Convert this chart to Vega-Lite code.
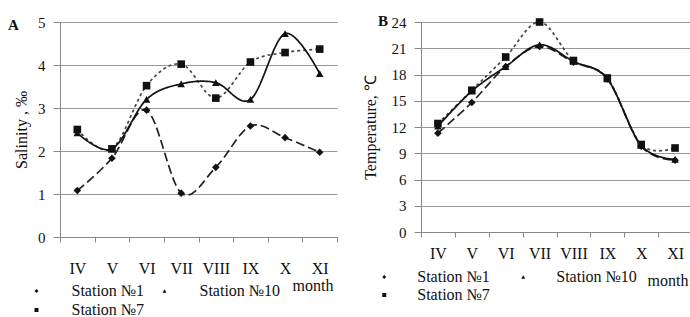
{
  "$schema": "https://vega.github.io/schema/vega-lite/v6.json",
  "background": "white",
  "padding": {"left": 8, "top": 13, "right": 0, "bottom": 0},
  "bounds": "flush",
  "spacing": 84,
  "config": {
    "font": "Liberation Serif",
    "view": {"stroke": null},
    "axis": {"labelFont": "Liberation Serif", "titleFont": "Liberation Serif", "labelColor": "#111", "titleColor": "#111", "domainColor": "#888", "tickColor": "#888", "titleFontWeight": "normal"},
    "legend": {"labelFont": "Liberation Serif", "labelFontSize": 16, "labelColor": "#111", "titleFont": "Liberation Serif", "titleColor": "#111", "symbolFillColor": "#111", "symbolStrokeColor": "#111"}
  },
  "datasets": {
    "sal": [
      {"month": "IV", "station": "Station №1", "value": 1.08},
      {"month": "V", "station": "Station №1", "value": 1.83},
      {"month": "VI", "station": "Station №1", "value": 2.95},
      {"month": "VII", "station": "Station №1", "value": 1.02},
      {"month": "VIII", "station": "Station №1", "value": 1.62},
      {"month": "IX", "station": "Station №1", "value": 2.58},
      {"month": "X", "station": "Station №1", "value": 2.31},
      {"month": "XI", "station": "Station №1", "value": 1.97},
      {"month": "IV", "station": "Station №7", "value": 2.5},
      {"month": "V", "station": "Station №7", "value": 2.05},
      {"month": "VI", "station": "Station №7", "value": 3.52},
      {"month": "VII", "station": "Station №7", "value": 4.02},
      {"month": "VIII", "station": "Station №7", "value": 3.23},
      {"month": "IX", "station": "Station №7", "value": 4.07},
      {"month": "X", "station": "Station №7", "value": 4.29},
      {"month": "XI", "station": "Station №7", "value": 4.37},
      {"month": "IV", "station": "Station №10", "value": 2.42},
      {"month": "V", "station": "Station №10", "value": 2.05},
      {"month": "VI", "station": "Station №10", "value": 3.2},
      {"month": "VII", "station": "Station №10", "value": 3.56},
      {"month": "VIII", "station": "Station №10", "value": 3.59},
      {"month": "IX", "station": "Station №10", "value": 3.2},
      {"month": "X", "station": "Station №10", "value": 4.73},
      {"month": "XI", "station": "Station №10", "value": 3.8}
    ],
    "temp": [
      {"month": "IV", "station": "Station №1", "value": 11.3},
      {"month": "V", "station": "Station №1", "value": 14.8},
      {"month": "VI", "station": "Station №1", "value": 18.9},
      {"month": "VII", "station": "Station №1", "value": 21.2},
      {"month": "VIII", "station": "Station №1", "value": 19.4},
      {"month": "IX", "station": "Station №1", "value": 17.5},
      {"month": "X", "station": "Station №1", "value": 9.8},
      {"month": "XI", "station": "Station №1", "value": 8.2},
      {"month": "IV", "station": "Station №7", "value": 12.4},
      {"month": "V", "station": "Station №7", "value": 16.2},
      {"month": "VI", "station": "Station №7", "value": 20.0},
      {"month": "VII", "station": "Station №7", "value": 24.0},
      {"month": "VIII", "station": "Station №7", "value": 19.6},
      {"month": "IX", "station": "Station №7", "value": 17.6},
      {"month": "X", "station": "Station №7", "value": 10.0},
      {"month": "XI", "station": "Station №7", "value": 9.6},
      {"month": "IV", "station": "Station №10", "value": 12.1},
      {"month": "V", "station": "Station №10", "value": 16.1},
      {"month": "VI", "station": "Station №10", "value": 18.9},
      {"month": "VII", "station": "Station №10", "value": 21.4},
      {"month": "VIII", "station": "Station №10", "value": 19.5},
      {"month": "IX", "station": "Station №10", "value": 17.5},
      {"month": "X", "station": "Station №10", "value": 9.9},
      {"month": "XI", "station": "Station №10", "value": 8.3}
    ]
  },
  "hconcat": [
    {
      "width": 277,
      "height": 215,
      "data": {"name": "sal"},
      "encoding": {
        "x": {"field": "month", "type": "ordinal", "sort": ["IV", "V", "VI", "VII", "VIII", "IX", "X", "XI"], "scale": {"type": "band", "paddingInner": 0, "paddingOuter": 0},
          "axis": {"title": "month", "titleX": 273, "titleY": 48, "titleAlign": "right", "titleBaseline": "middle", "titleFontSize": 16, "labelAngle": 0, "labelFontSize": 16, "labelPadding": 18, "tickBand": "extent", "tickSize": 5, "grid": false}},
        "y": {"field": "value", "type": "quantitative", "scale": {"domain": [0, 5], "nice": false},
          "axis": {"title": "Salinity , ‰", "values": [0, 1, 2, 3, 4, 5], "grid": true, "gridColor": "#999", "tickSize": 7, "labelPadding": 8, "labelFontSize": 15, "titleFontSize": 16, "titlePadding": 8}}
      },
      "layer": [
        {"mark": {"type": "line", "interpolate": "cardinal", "strokeWidth": 1.7},
          "encoding": {
            "strokeDash": {"field": "station", "type": "nominal", "sort": ["Station №1", "Station №7", "Station №10"], "scale": {"domain": ["Station №1", "Station №7", "Station №10"], "range": [[9, 4], [3, 3], [1, 0]]}, "legend": null},
            "color": {"field": "station", "type": "nominal", "sort": ["Station №1", "Station №7", "Station №10"], "scale": {"domain": ["Station №1", "Station №7", "Station №10"], "range": ["#222", "#444", "#111"]},
              "legend": {"orient": "none", "legendX": -52, "legendY": -5, "title": "A", "titleOrient": "bottom", "titleFontSize": 15, "titleFontWeight": "bold", "titlePadding": 0, "padding": 0, "direction": "horizontal", "columns": 3, "labelOpacity": 0, "symbolOpacity": 0, "labelFontSize": 1, "symbolSize": 0, "symbolStrokeWidth": 0, "labelLimit": 1, "labelOffset": 0, "columnPadding": 0}}}},
        {"mark": {"type": "point", "filled": true, "opacity": 1, "color": "#111", "size": 58},
          "encoding": {
            "shape": {"field": "station", "type": "nominal", "sort": ["Station №1", "Station №7", "Station №10"], "scale": {"domain": ["Station №1", "Station №7", "Station №10"], "range": ["diamond", "square", "triangle-up"]},
              "legend": {"orient": "none", "legendX": -31.5, "legendY": 261, "columns": 2, "title": null, "values": ["Station №1", "Station №7", "Station №10"], "labelFont": "Liberation Serif", "labelFontSize": 16, "symbolSize": 16, "labelOffset": 27, "columnPadding": 12, "rowPadding": 3, "padding": 0,
                "encode": {
                  "labels": {"update": {"font": {"value": "Liberation Serif"}, "fontSize": {"value": 16}}},
                  "symbols": {"update": {
                    "shape": {"signal": "datum.value === 'Station №1' ? 'M-10.75,0H10.75M0,-2.2L2,0L0,2.2L-2,0Z' : (datum.value === 'Station №7' ? 'M-11,0H-8.5M-6.5,0H-4M-2.5,0H2.5M4,0H6.5M8.5,0H11M-1.8,-1.8H1.8V1.8H-1.8Z' : 'M-12,0H12M0,-2.6L2.6,2L-2.6,2Z')"},
                    "size": {"value": 16}, "fill": {"value": "#111"}, "stroke": {"value": "#111"}, "strokeWidth": {"value": 1.5}, "opacity": {"value": 1}}}}}}}}
      ],
      "resolve": {"scale": {"shape": "independent", "color": "independent", "strokeDash": "independent"}, "legend": {"shape": "independent", "color": "independent", "strokeDash": "independent"}}
    },
    {
      "width": 271,
      "height": 210,
      "data": {"name": "temp"},
      "encoding": {
        "x": {"field": "month", "type": "ordinal", "sort": ["IV", "V", "VI", "VII", "VIII", "IX", "X", "XI"], "scale": {"type": "band", "paddingInner": 0, "paddingOuter": 0},
          "axis": {"title": "month", "titleX": 267, "titleY": 48, "titleAlign": "right", "titleBaseline": "middle", "titleFontSize": 16, "labelAngle": 0, "labelFontSize": 16, "labelPadding": 8, "tickBand": "extent", "tickSize": 5, "grid": false}},
        "y": {"field": "value", "type": "quantitative", "scale": {"domain": [0, 24], "nice": false},
          "axis": {"title": "Temperature, ℃", "values": [0, 3, 6, 9, 12, 15, 18, 21, 24], "grid": true, "gridColor": "#999", "tickSize": 7, "labelPadding": 8, "labelFontSize": 15, "titleFontSize": 16, "titlePadding": 13}}
      },
      "layer": [
        {"mark": {"type": "line", "interpolate": "cardinal", "strokeWidth": 1.7},
          "encoding": {
            "strokeDash": {"field": "station", "type": "nominal", "sort": ["Station №1", "Station №7", "Station №10"], "scale": {"domain": ["Station №1", "Station №7", "Station №10"], "range": [[9, 4], [3, 3], [1, 0]]}, "legend": null},
            "color": {"field": "station", "type": "nominal", "sort": ["Station №1", "Station №7", "Station №10"], "scale": {"domain": ["Station №1", "Station №7", "Station №10"], "range": ["#222", "#444", "#111"]},
              "legend": {"orient": "none", "legendX": -43, "legendY": -9, "title": "B", "titleOrient": "bottom", "titleFontSize": 15, "titleFontWeight": "bold", "titlePadding": 0, "padding": 0, "direction": "horizontal", "columns": 3, "labelOpacity": 0, "symbolOpacity": 0, "labelFontSize": 1, "symbolSize": 0, "symbolStrokeWidth": 0, "labelLimit": 1, "labelOffset": 0, "columnPadding": 0}}}},
        {"mark": {"type": "point", "filled": true, "opacity": 1, "color": "#111", "size": 58},
          "encoding": {
            "shape": {"field": "station", "type": "nominal", "sort": ["Station №1", "Station №7", "Station №10"], "scale": {"domain": ["Station №1", "Station №7", "Station №10"], "range": ["diamond", "square", "triangle-up"]},
              "legend": {"orient": "none", "legendX": -44.75, "legendY": 247, "columns": 2, "title": null, "values": ["Station №1", "Station №7", "Station №10"], "labelFont": "Liberation Serif", "labelFontSize": 16, "symbolSize": 16, "labelOffset": 25, "columnPadding": 25, "rowPadding": 2, "padding": 0,
                "encode": {
                  "labels": {"update": {"font": {"value": "Liberation Serif"}, "fontSize": {"value": 16}}},
                  "symbols": {"update": {
                    "shape": {"signal": "datum.value === 'Station №1' ? 'M-10.5,0H10.5M0,-2.2L2,0L0,2.2L-2,0Z' : (datum.value === 'Station №7' ? 'M-8,0H-6M-4.5,0H-2.5M-1.5,0H1.5M2.5,0H4.5M6,0H8M-1.8,-1.8H1.8V1.8H-1.8Z' : 'M-12,0H12M0,-2.6L2.6,2L-2.6,2Z')"},
                    "size": {"value": 16}, "fill": {"value": "#111"}, "stroke": {"value": "#111"}, "strokeWidth": {"value": 1.5}, "opacity": {"value": 1}}}}}}}}
      ],
      "resolve": {"scale": {"shape": "independent", "color": "independent", "strokeDash": "independent"}, "legend": {"shape": "independent", "color": "independent", "strokeDash": "independent"}}
    }
  ],
  "resolve": {
    "scale": {"x": "independent", "y": "independent", "shape": "independent", "strokeDash": "independent", "color": "independent"},
    "legend": {"shape": "independent", "strokeDash": "independent", "color": "independent"}
  }
}
